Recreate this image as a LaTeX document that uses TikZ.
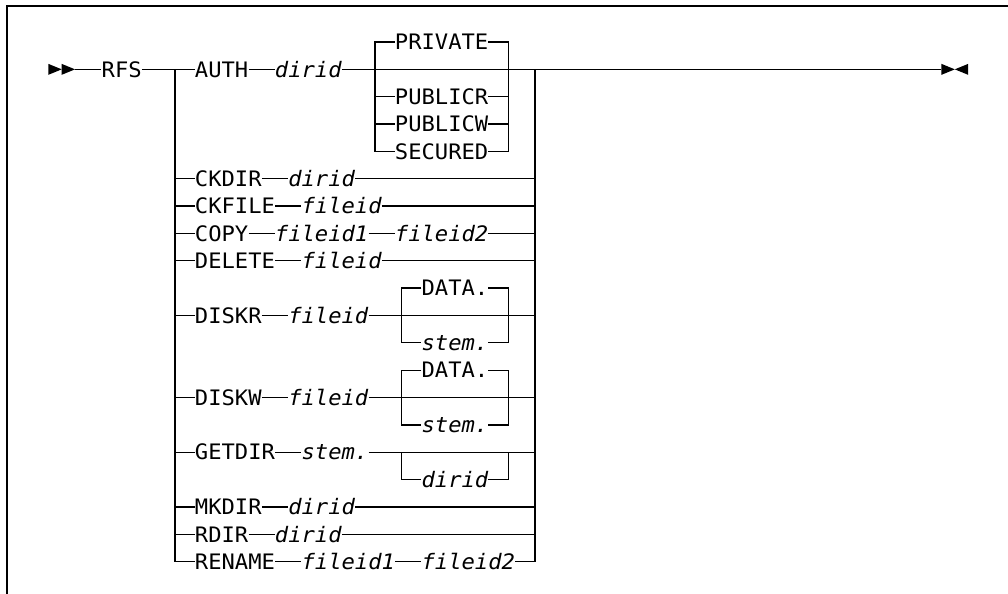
\documentclass[tikz,border=0pt]{standalone}
\usepackage{fontspec}
\newfontfamily\dmono[FakeStretch=1.04]{DejaVu Sans Mono}
\begin{document}
\begin{tikzpicture}[x=13.33pt,y=-27.35pt,
  ln/.style={line width=1.3pt,line join=miter},
  frame/.style={line width=2pt},
  kw/.style={inner sep=0pt,text height=20.5pt,text depth=5pt,font=\dmono\fontsize{21.3}{25}\selectfont},
  var/.style={kw,font=\dmono\itshape\fontsize{21.3}{25}\selectfont}]
\useasboundingbox (-14.629,-1.5356) rectangle (60.99,20.183);
% frame
\draw[frame] (-14.08,20.183) -- (-14.08,-1.316) -- (60.99,-1.316);
% coordinates
\coordinate (st) at (-11,1);
\coordinate (st2) at (-9,1);
\coordinate (j1) at (-1.5,1);
\coordinate (bl) at (13.5,1);
\coordinate (br) at (23.5,1);
\coordinate (j2) at (25.5,1);
\coordinate (en) at (56,1);
\coordinate (rl) at (15.5,10);
\coordinate (rr) at (23.5,10);
\coordinate (wl) at (15.5,13);
\coordinate (wr) at (23.5,13);
\coordinate (gl) at (15.5,15);
\coordinate (gr) at (23.5,15);
% nodes
\node[kw] (rfs) at (-5.5,1) {RFS};
\node[kw] (auth) at (2,1) {AUTH};
\node[var] (adir) at (8.5,1) {dirid};
\node[kw] (private) at (18.5,0) {PRIVATE};
\node[kw] (publicr) at (18.5,2) {PUBLICR};
\node[kw] (publicw) at (18.5,3) {PUBLICW};
\node[kw] (secured) at (18.5,4) {SECURED};
\node[kw] (ckdir) at (2.5,5) {CKDIR};
\node[var] (ckdird) at (9.5,5) {dirid};
\node[kw] (ckfile) at (3,6) {CKFILE};
\node[var] (ckfilef) at (11,6) {fileid};
\node[kw] (copy) at (2,7) {COPY};
\node[var] (copyf1) at (9.5,7) {fileid1};
\node[var] (copyf2) at (18.5,7) {fileid2};
\node[kw] (delete) at (3,8) {DELETE};
\node[var] (deletef) at (11,8) {fileid};
\node[kw] (diskr) at (2.5,10) {DISKR};
\node[var] (diskrf) at (10,10) {fileid};
\node[kw] (rdata) at (19.5,9) {DATA.};
\node[var] (rstem) at (19.5,11) {stem.};
\node[kw] (diskw) at (2.5,13) {DISKW};
\node[var] (diskwf) at (10,13) {fileid};
\node[kw] (wdata) at (19.5,12) {DATA.};
\node[var] (wstem) at (19.5,14) {stem.};
\node[kw] (getdir) at (3,15) {GETDIR};
\node[var] (getdirs) at (10.5,15) {stem.};
\node[var] (getdird) at (19.5,16) {dirid};
\node[kw] (mkdir) at (2.5,17) {MKDIR};
\node[var] (mkdird) at (9.5,17) {dirid};
\node[kw] (rdir) at (2,18) {RDIR};
\node[var] (rdird) at (8.5,18) {dirid};
\node[kw] (rename) at (3,19) {RENAME};
\node[var] (renf1) at (11.5,19) {fileid1};
\node[var] (renf2) at (20.5,19) {fileid2};
% start and end marks
\fill (st) ++(0,-0.2) -- ++(1,0.2) -- ++(-1,0.2) -- cycle;
\fill (st) ++(1,-0.2) -- ++(1,0.2) -- ++(-1,0.2) -- cycle;
\fill (en) ++(0,-0.2) -- ++(1,0.2) -- ++(-1,0.2) -- cycle;
\fill (en) ++(2,-0.2) -- ++(-1,0.2) -- ++(1,0.2) -- cycle;
% main line
\draw[ln] (st2) -- (rfs.west);
\draw[ln] (rfs.east) -- (auth.west);
\draw[ln] (auth.east) -- (adir.west);
\draw[ln] (adir.east) -- (en);
% AUTH options
\draw[ln] (private.west) -| (bl |- secured) -- (secured.west);
\draw[ln] (private.east) -| (br |- secured) -- (secured.east);
\draw[ln] (bl |- publicr) -- (publicr.west);
\draw[ln] (publicr.east) -- (br |- publicr);
\draw[ln] (bl |- publicw) -- (publicw.west);
\draw[ln] (publicw.east) -- (br |- publicw);
% left and right rails
\draw[ln] (j1) -- (j1 |- rename) -- (rename.west);
\draw[ln] (renf2.east) -- (j2 |- renf2) -- (j2);
% rows
\draw[ln] (j1 |- ckdir) -- (ckdir.west);
\draw[ln] (ckdir.east) -- (ckdird.west);
\draw[ln] (ckdird.east) -- (j2 |- ckdird);
\draw[ln] (j1 |- ckfile) -- (ckfile.west);
\draw[ln] (ckfile.east) -- (ckfilef.west);
\draw[ln] (ckfilef.east) -- (j2 |- ckfilef);
\draw[ln] (j1 |- copy) -- (copy.west);
\draw[ln] (copy.east) -- (copyf1.west);
\draw[ln] (copyf1.east) -- (copyf2.west);
\draw[ln] (copyf2.east) -- (j2 |- copyf2);
\draw[ln] (j1 |- delete) -- (delete.west);
\draw[ln] (delete.east) -- (deletef.west);
\draw[ln] (deletef.east) -- (j2 |- deletef);
\draw[ln] (j1 |- diskr) -- (diskr.west);
\draw[ln] (diskr.east) -- (diskrf.west);
\draw[ln] (diskrf.east) -- (j2 |- diskrf);
\draw[ln] (rdata.west) -| (rl |- rstem) -- (rstem.west);
\draw[ln] (rdata.east) -| (rr |- rstem) -- (rstem.east);
\draw[ln] (j1 |- diskw) -- (diskw.west);
\draw[ln] (diskw.east) -- (diskwf.west);
\draw[ln] (diskwf.east) -- (j2 |- diskwf);
\draw[ln] (wdata.west) -| (wl |- wstem) -- (wstem.west);
\draw[ln] (wdata.east) -| (wr |- wstem) -- (wstem.east);
\draw[ln] (j1 |- getdir) -- (getdir.west);
\draw[ln] (getdir.east) -- (getdirs.west);
\draw[ln] (getdirs.east) -- (j2 |- getdirs);
\draw[ln] (gl) |- (getdird.west);
\draw[ln] (getdird.east) -| (gr);
\draw[ln] (j1 |- mkdir) -- (mkdir.west);
\draw[ln] (mkdir.east) -- (mkdird.west);
\draw[ln] (mkdird.east) -- (j2 |- mkdird);
\draw[ln] (j1 |- rdir) -- (rdir.west);
\draw[ln] (rdir.east) -- (rdird.west);
\draw[ln] (rdird.east) -- (j2 |- rdird);
\draw[ln] (rename.east) -- (renf1.west);
\draw[ln] (renf1.east) -- (renf2.west);
\end{tikzpicture}
\end{document}
